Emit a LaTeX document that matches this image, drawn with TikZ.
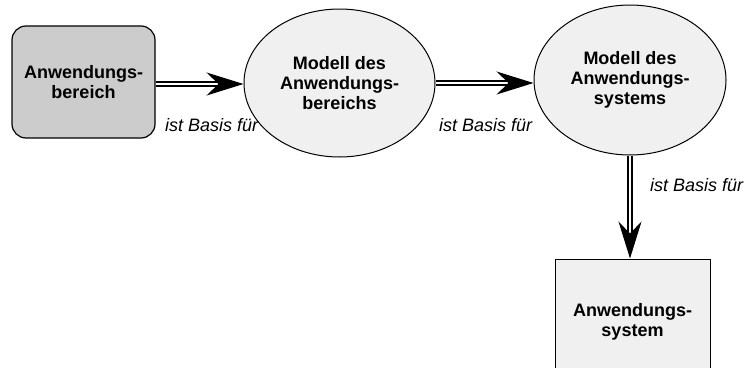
\documentclass[tikz,border=0pt]{standalone}
\usepackage{fontspec}
\setmainfont{Liberation Sans}
\usetikzlibrary{shapes.geometric,arrows.meta}
\definecolor{boxgray}{HTML}{CCCCCC}
\definecolor{lightfill}{HTML}{F0F0F0}
\tikzset{
  entity/.style={draw=black, line width=1pt, inner sep=0pt, align=center,
    font=\fontsize{18}{20}\selectfont\bfseries},
  areabox/.style={entity, rectangle, rounded corners=14pt, fill=boxgray,
    line width=1.2pt, minimum width=143pt, minimum height=112pt},
  modelell/.style={entity, ellipse, fill=lightfill},
  sysbox/.style={entity, rectangle, fill=lightfill, minimum width=155pt, minimum height=126pt},
  dblline/.style={draw=black, line width=1.7pt, double=white, double distance=2pt},
  headtip/.style={-{Stealth[length=37pt, width=23pt, inset=12pt]}, line width=1pt},
  relabel/.style={font=\fontsize{18}{20}\selectfont\itshape, inner sep=0pt, anchor=base west}
}
\begin{document}
\begin{tikzpicture}[x=1pt, y=-1pt]
  \useasboundingbox (0,0) rectangle (751,367);
  \clip (0,0) rectangle (751,367);

  % nodes
  \node[areabox] (bereich) at (83.5,82) {Anwendungs-\\bereich};
  \node[modelell, minimum width=191pt, minimum height=148pt] (mbereich) at (339.5,83)
    {Modell des\\Anwendungs-\\bereichs};
  \node[modelell, minimum width=192pt, minimum height=150pt] (msystem) at (630,80)
    {Modell des\\Anwendungs-\\systems};
  \node[sysbox] (system) at (632.5,322) {Anwendungs-\\system};

  % connectors: double shaft, then a filled head
  \path ([yshift=-2pt]bereich.east) coordinate (s1);
  \path (s1 -| mbereich.west) coordinate (t1) ++(-26,0) coordinate (h1);
  \draw[dblline] (s1) -- (h1);
  \draw[headtip] (h1) -- (t1);

  \path (mbereich.east -| msystem.west) coordinate (t2) ++(-26,0) coordinate (h2);
  \draw[dblline] (mbereich.east) -- (h2);
  \draw[headtip] (h2) -- (t2);

  \path (msystem.south |- system.north) coordinate (t3) ++(0,-26) coordinate (h3);
  \draw[dblline] (msystem.south) -- (h3);
  \draw[headtip] (h3) -- (t3);

  % labels
  \node[relabel] (lab1) at (165,131) {ist Basis für};
  \node[relabel] (lab2) at (439,131) {ist Basis für};
  \node[relabel] (lab3) at (650,191) {ist Basis für};
\end{tikzpicture}
\end{document}
